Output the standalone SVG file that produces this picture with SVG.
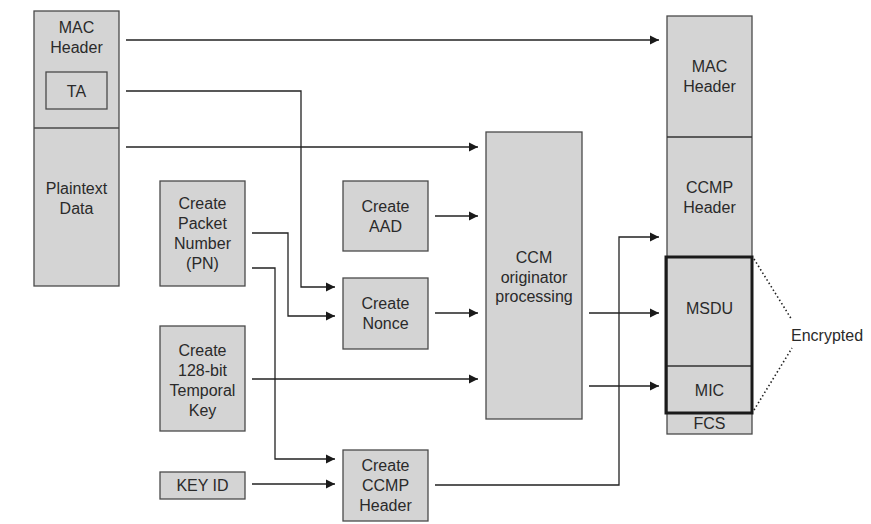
<svg xmlns="http://www.w3.org/2000/svg" width="871" height="524" viewBox="0 0 871 524">
<defs>
<marker id="ah" markerUnits="userSpaceOnUse" markerWidth="10" markerHeight="10" refX="9" refY="5" orient="auto">
<path d="M0,0.5 L9,5 L0,9.5 Z" fill="#1a1a1a"/>
</marker>
<style>
.box{fill:#d4d4d4;stroke:#4a4a4a;stroke-width:1.3}
.t{font-family:"Liberation Sans",Arial,sans-serif;font-size:16px;fill:#2a2a2a;text-anchor:middle}
.c{fill:none;stroke:#222;stroke-width:1.3}
.a{marker-end:url(#ah)}
</style>
</defs>
<rect width="871" height="524" fill="#fff"/>

<g id="source-frame">
<rect class="box" x="34" y="11" width="85" height="275"/>
<line x1="34" y1="128" x2="119" y2="128" stroke="#4a4a4a" stroke-width="1.3"/>
<text class="t" x="76.5" y="33">MAC</text>
<text class="t" x="76.5" y="53">Header</text>
<text class="t" x="76.5" y="194">Plaintext</text>
<text class="t" x="76.5" y="214">Data</text>
</g>
<g id="ta">
<rect class="box" x="46" y="72" width="61" height="37"/>
<text class="t" x="76.5" y="97">TA</text>
</g>

<g id="pn">
<rect class="box" x="160" y="181" width="85" height="105"/>
<text class="t" x="202.5" y="209">Create</text>
<text class="t" x="202.5" y="229">Packet</text>
<text class="t" x="202.5" y="249">Number</text>
<text class="t" x="202.5" y="269">(PN)</text>
</g>
<g id="tk">
<rect class="box" x="160" y="326" width="85" height="105"/>
<text class="t" x="202.5" y="356">Create</text>
<text class="t" x="202.5" y="376">128-bit</text>
<text class="t" x="202.5" y="396">Temporal</text>
<text class="t" x="202.5" y="416">Key</text>
</g>
<g id="keyid">
<rect class="box" x="160" y="472" width="85" height="27"/>
<text class="t" x="202.5" y="491">KEY ID</text>
</g>
<g id="aad">
<rect class="box" x="343" y="181" width="85" height="70"/>
<text class="t" x="385.5" y="212">Create</text>
<text class="t" x="385.5" y="232">AAD</text>
</g>
<g id="nonce">
<rect class="box" x="343" y="278" width="85" height="71"/>
<text class="t" x="385.5" y="309">Create</text>
<text class="t" x="385.5" y="329">Nonce</text>
</g>
<g id="ccmphdr">
<rect class="box" x="343" y="450" width="85" height="71"/>
<text class="t" x="385.5" y="471">Create</text>
<text class="t" x="385.5" y="491">CCMP</text>
<text class="t" x="385.5" y="511">Header</text>
</g>
<g id="ccm">
<rect class="box" x="486" y="132" width="96" height="287"/>
<text class="t" x="534" y="263">CCM</text>
<text class="t" x="534" y="283">originator</text>
<text class="t" x="534" y="302">processing</text>
</g>

<g id="result-frame">
<rect class="box" x="667" y="16" width="85" height="418"/>
<line x1="667" y1="137" x2="752" y2="137" stroke="#333" stroke-width="1.3"/>
<line x1="667" y1="366" x2="752" y2="366" stroke="#333" stroke-width="1.3"/>
<rect x="666" y="257" width="86" height="156" fill="none" stroke="#1a1a1a" stroke-width="3"/>
<text class="t" x="709.5" y="72">MAC</text>
<text class="t" x="709.5" y="92">Header</text>
<text class="t" x="709.5" y="193">CCMP</text>
<text class="t" x="709.5" y="213">Header</text>
<text class="t" x="709.5" y="314">MSDU</text>
<text class="t" x="709.5" y="396">MIC</text>
<text class="t" x="709.5" y="429">FCS</text>
</g>
<g id="encrypted">
<path d="M754,259 L792,320 M754,410 L792,348" fill="none" stroke="#222" stroke-width="1.6" stroke-dasharray="1.5,2.5"/>
<text class="t" x="791" y="341" style="text-anchor:start">Encrypted</text>
</g>

<g id="connectors">
<path class="c a" d="M126,40 H659"/>
<path class="c a" d="M126,91 H301 V287 H335"/>
<path class="c a" d="M126,147 H478"/>
<path class="c a" d="M252,233 H288 V316 H335"/>
<path class="c a" d="M252,268 H275 V459 H335"/>
<path class="c a" d="M435,216 H478"/>
<path class="c a" d="M435,313 H478"/>
<path class="c a" d="M252,379 H478"/>
<path class="c a" d="M252,484 H335"/>
<path class="c a" d="M435,485 H619 V237 H659"/>
<path class="c a" d="M589,313 H659"/>
<path class="c a" d="M589,386 H659"/>
</g>
</svg>
